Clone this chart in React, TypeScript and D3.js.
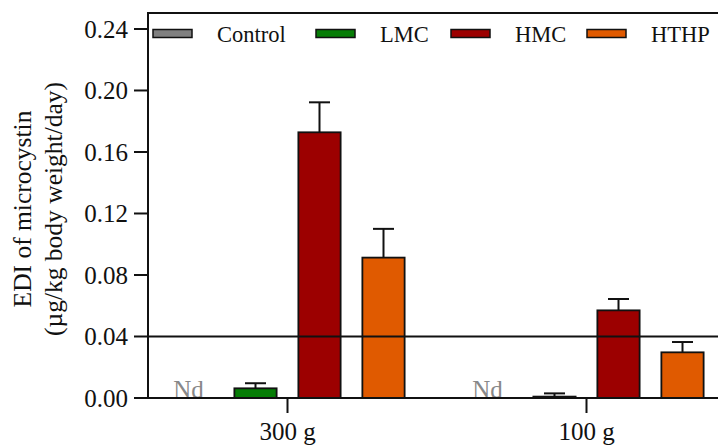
import React from "react";
import * as d3 from "d3";

const groups = ["300 g", "100 g"];
const categories = ["Control", "LMC", "HMC", "HTHP"];
const colors = ["#808080", "#067d06", "#9c0000", "#e05a00"];
const controlValues = [0, 0];
const lmcValues = [0.0063, 0.0009];
const hmcValues = [0.1728, 0.057];
const hthpValues = [0.0913, 0.0297];
const controlErr = [0, 0];
const lmcErr = [0.0033, 0.0021];
const hmcErr = [0.0195, 0.0074];
const hthpErr = [0.0187, 0.0067];
const notDetected = [true, false, false, false];
const yTicks = [0, 0.04, 0.08, 0.12, 0.16, 0.2, 0.24];
const referenceLine = 0.04;
const yLabel1 = "EDI of microcystin";
const yLabel2 = "(\u00b5g/kg body weight/day)";

const seriesValues = [controlValues, lmcValues, hmcValues, hthpValues];
const seriesErr = [controlErr, lmcErr, hmcErr, hthpErr];

const W = 718;
const H = 447;
const left = 148;
const top = 13;
const bottom = 398;
const right = 722;
const legendSwatchX = [153, 316, 451, 587];
const FONT = '"Liberation Serif", Tinos, "Times New Roman", "DejaVu Serif", serif';
const ts = { fontFamily: FONT };

export default function App() {
  const y = d3.scaleLinear().domain([0, 0.25]).range([bottom, top + 0.6]);
  const x0 = d3.scaleBand<string>().domain(groups).range([138, 736]).padding(0);
  const x1 = d3
    .scaleBand<string>()
    .domain(categories)
    .range([0, x0.bandwidth() - 43])
    .paddingInner(0.34)
    .paddingOuter(0.17);
  const innerOffset = 43 / 2;
  const bw = x1.bandwidth();
  const capW = 21;

  return (
    <svg
      width={W}
      height={H}
      style={{ position: "absolute", left: 0, top: 0, background: "#fff" }}
    >
      {/* legend */}
      {categories.map((c, i) => (
        <g key={c}>
          <rect
            x={legendSwatchX[i]}
            y={29.5}
            width={39}
            height={8}
            fill={colors[i]}
            stroke="#111"
            strokeWidth={1.5}
          />
          <text x={legendSwatchX[i] + 64} y={41.5} fontSize={22.5} fill="#111" style={ts}>
            {c}
          </text>
        </g>
      ))}

      {/* bars */}
      {groups.map((g, gi) =>
        categories.map((c, ci) => {
          const v = seriesValues[ci][gi];
          const e = seriesErr[ci][gi];
          const bx = (x0(g) as number) + innerOffset + (x1(c) as number);
          const cx = bx + bw / 2;
          if (notDetected[ci]) {
            return (
              <text
                key={g + c}
                x={cx - 3}
                y={bottom}
                textAnchor="middle"
                fontSize={25}
                fill="#888"
                style={ts}
              >
                Nd
              </text>
            );
          }
          return (
            <g key={g + c}>
              <line x1={cx} x2={cx} y1={y(v)} y2={y(v + e)} stroke="#111" strokeWidth={2} />
              <line
                x1={cx - capW / 2}
                x2={cx + capW / 2}
                y1={y(v + e)}
                y2={y(v + e)}
                stroke="#111"
                strokeWidth={2}
              />
              <rect
                x={bx}
                y={y(v)}
                width={bw}
                height={bottom - y(v)}
                fill={colors[ci]}
                stroke="#111"
                strokeWidth={1.8}
              />
            </g>
          );
        })
      )}

      {/* reference line */}
      <line
        x1={left}
        x2={right}
        y1={y(referenceLine)}
        y2={y(referenceLine)}
        stroke="#111"
        strokeWidth={2}
      />

      {/* frame */}
      <line x1={left} x2={right} y1={top} y2={top} stroke="#111" strokeWidth={2} />
      <line x1={left} x2={left} y1={top - 1} y2={bottom + 1} stroke="#111" strokeWidth={2} />
      <line x1={left - 14} x2={right} y1={bottom} y2={bottom} stroke="#111" strokeWidth={2} />

      {/* y ticks */}
      {yTicks.map((t) => (
        <g key={t}>
          <line x1={left - 14} x2={left} y1={y(t)} y2={y(t)} stroke="#111" strokeWidth={2} />
          <text
            x={left - 20}
            y={y(t)}
            dy="0.35em"
            textAnchor="end"
            fontSize={25}
            fill="#111"
            style={ts}
          >
            {d3.format(".2f")(t)}
          </text>
        </g>
      ))}

      {/* x ticks */}
      {groups.map((g) => {
        const cx = (x0(g) as number) + x0.bandwidth() / 2;
        return (
          <g key={g}>
            <line x1={cx} x2={cx} y1={bottom} y2={bottom + 15} stroke="#111" strokeWidth={2} />
            <text x={cx} y={440} textAnchor="middle" fontSize={25} fill="#111" style={ts}>
              {g}
            </text>
          </g>
        );
      })}

      {/* y label */}
      <g transform={`translate(0, 209) rotate(-90)`}>
        <text x={0} y={31} textAnchor="middle" fontSize={25.5} fill="#111" style={ts}>
          {yLabel1}
        </text>
        <text x={0} y={62} textAnchor="middle" fontSize={25.5} fill="#111" style={ts}>
          {yLabel2}
        </text>
      </g>
    </svg>
  );
}
